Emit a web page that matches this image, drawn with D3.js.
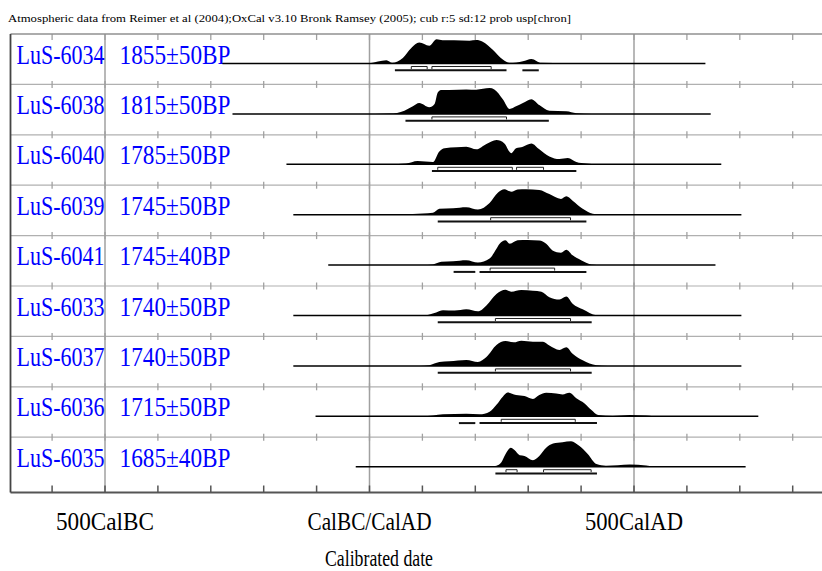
<!DOCTYPE html>
<html>
<head>
<meta charset="utf-8">
<script src="https://cdn.jsdelivr.net/npm/d3@7/dist/d3.min.js"></script>
<style>
  body { margin: 0; background: #fff; }
  text { font-family: "Liberation Serif", "Times New Roman", serif; }
</style>
</head>
<body>
<div id="chart"></div>
<script>
// samples, top to bottom
var labels = ["LuS-6034", "LuS-6038", "LuS-6040", "LuS-6039", "LuS-6041",
              "LuS-6033", "LuS-6037", "LuS-6036", "LuS-6035"];
var dates = ["1855\u00b150BP", "1815\u00b150BP", "1785\u00b150BP", "1745\u00b150BP", "1745\u00b140BP",
             "1740\u00b150BP", "1740\u00b150BP", "1715\u00b150BP", "1685\u00b140BP"];

// extent of the calibrated curve line for each sample (cal years, BC negative)
var spans = [[-278, 635], [-259, 645], [-157, 665], [-144, 703], [-78, 654],
             [-144, 703], [-144, 703], [-102, 735], [-26, 711]];

// probability distributions [year, relative probability]
var p6034 = [[-20,0],[0,0.3],[32,3.3],[43,0.7],[63,5.7],[79,15.7],[94,21.3],[113,18],[127,24.7],[138,23.7],
  [160,23.8],[189,23.3],[202,24],[214,22.3],[233,14],[252,4],[265,0.7],[290,2.3],[306,4.7],[325,0.7],[372,0.3],[400,0]];
var p6038 = [[10,0],[38,0.3],[66,3.3],[82,7.7],[94,11],[113,6.7],[123,10],[129,21.7],[135,24.3],[151,24.3],
  [183,25],[202,24.7],[227,26.3],[236,25],[252,15],[265,5],[277,7.7],[290,11],[306,15],[321,9],[340,3.3],[372,2.7],[391,0.7],[420,0]];
var p6040 = [[40,0],[69,0.7],[91,3.3],[120,2.3],[132,13],[142,16.3],[164,17.3],[183,18],[202,15.3],[221,20.7],
  [240,24.7],[255,21.3],[268,11.3],[277,16.3],[290,18],[306,21.3],[321,15.3],[340,8],[359,5.3],[375,6.3],[391,2.3],[410,0.7],[430,0]];
var p6039 = [[60,0],[82,0.7],[120,2],[132,6],[158,6.7],[183,7.7],[205,5.3],[227,12],[243,22.7],[255,26],
  [268,23.3],[280,25.7],[296,26],[321,25.3],[340,21],[362,16],[372,18.7],[384,14.3],[403,6],[422,1],[440,0]];
var p6041 = [[100,0],[120,0.7],[136,3.3],[158,4],[183,5],[205,2.7],[227,6.7],[240,16.7],[246,21.7],[257,25.3],
  [265,21.7],[280,25.3],[299,25.7],[321,25],[334,21.7],[346,15],[362,12.7],[372,15.7],[384,10],[400,5],[419,0.7],[440,0]];
var p6033 = [[90,0],[107,0.3],[126,3],[139,5.3],[161,5],[183,6.3],[205,4.3],[221,10.3],[240,22],[257,26.3],
  [268,24.3],[287,26],[309,25.3],[325,24.3],[340,18.7],[359,16.3],[372,19.3],[384,12],[403,6.3],[429,0.3],[450,0]];
var p6037 = [[95,0],[113,0.7],[132,4],[151,4.7],[183,6],[205,4],[221,9],[240,21.3],[257,25.3],[273,24],
  [287,25.7],[309,24.7],[328,24.7],[340,20.7],[359,16.3],[372,19],[384,12.3],[403,5.7],[429,0.7],[450,0]];
var p6036 = [[100,0],[120,0.7],[139,2],[183,2.7],[208,2],[227,4.7],[240,11.7],[252,20],[261,24.3],[277,21.7],
  [293,20.7],[309,17.7],[321,21.7],[334,24],[353,23.3],[365,22.3],[378,24],[391,18.3],[406,13.3],[419,6.7],
  [432,1.3],[460,0.3],[492,1.3],[523,0.7],[536,0]];
var p6035 = [[225,0],[240,1],[249,4.3],[257,12.7],[267,19.3],[274,17],[284,11.7],[293,11],[309,6.7],[321,11],
  [334,19.3],[347,23.7],[365,25],[381,26],[397,21],[413,12.7],[429,2.7],[447,1],[492,2.3],[523,1.3],[536,0]];
var probs = [p6034, p6038, p6040, p6039, p6041, p6033, p6037, p6036, p6035];

// 68.2% and 95.4% ranges
var ranges68 = [[[79,109],[118,230]], [[118,259]], [[129,270],[278,329]], [[229,380]], [[228,350]],
                [[238,380]], [[238,380]], [[249,389]], [[258,279],[329,419]]];
var ranges95 = [[[48,259],[289,320]], [[68,339]], [[118,391]], [[129,410]], [[159,200],[208,410]],
                [[129,420]], [[129,420]], [[169,200],[208,430]], [[238,430]]];

var axisLabels = [[-500, "500CalBC"], [0, "CalBC/CalAD"], [500, "500CalAD"]];
var tickYears = d3.range(-600, 900, 100);
var majorYears = [-500, 0, 500];
var title = "Atmospheric data from Reimer et al (2004);OxCal v3.10 Bronk Ramsey (2005); cub r:5 sd:12 prob usp[chron]";
var xTitle = "Calibrated date";

var width = 822, height = 571;
var frame = {left: 10.5, top: 34, right: 830, bottom: 492.5};
var rowH = 50.4;

var svg = d3.select("#chart").append("svg")
    .attr("width", width)
    .attr("height", height);

var x = d3.scaleLinear()
    .domain([-500, 500])
    .range([105, 634]);

var y = d3.scaleBand()
    .domain(labels)
    .range([frame.top, frame.top + rowH * labels.length]);

var h = d3.scaleLinear()
    .domain([0, 26])
    .range([0, 25.5]);

// title
svg.append("text")
    .attr("x", 8)
    .attr("y", 22)
    .attr("font-size", 11)
    .attr("textLength", 563)
    .attr("lengthAdjust", "spacingAndGlyphs")
    .text(title);

// row separators
svg.selectAll(".rowline")
    .data(labels.slice(1))
    .enter().append("line")
    .attr("x1", frame.left).attr("x2", frame.right)
    .attr("y1", function(d){ return y(d); })
    .attr("y2", function(d){ return y(d); })
    .attr("stroke", "#b0b0b0")
    .attr("stroke-width", 1.2);

// major grid lines
svg.selectAll(".major")
    .data(majorYears)
    .enter().append("line")
    .attr("x1", function(d){ return x(d); })
    .attr("x2", function(d){ return x(d); })
    .attr("y1", frame.top).attr("y2", frame.bottom)
    .attr("stroke", "#a0a0a0")
    .attr("stroke-width", 1.5);

// ticks on every row line
var tickRows = labels.map(function(d){ return y(d); });
tickRows.forEach(function(ty, i){
    svg.selectAll(null)
        .data(tickYears)
        .enter().append("line")
        .attr("x1", function(d){ return x(d); })
        .attr("x2", function(d){ return x(d); })
        .attr("y1", i == 0 ? ty : ty - 3.5)
        .attr("y2", i == 0 ? ty + 6 : ty + 3.5)
        .attr("stroke", "#a0a0a0")
        .attr("stroke-width", 1.3);
});
svg.selectAll(null)
    .data(tickYears)
    .enter().append("line")
    .attr("x1", function(d){ return x(d); })
    .attr("x2", function(d){ return x(d); })
    .attr("y1", frame.bottom - 7)
    .attr("y2", frame.bottom)
    .attr("stroke", "#555")
    .attr("stroke-width", 1.5);

// frame
svg.append("line")
    .attr("x1", frame.left).attr("x2", frame.right)
    .attr("y1", frame.top).attr("y2", frame.top)
    .attr("stroke", "#909090").attr("stroke-width", 1.5);
svg.append("line")
    .attr("x1", frame.left).attr("x2", frame.right)
    .attr("y1", frame.bottom).attr("y2", frame.bottom)
    .attr("stroke", "#555").attr("stroke-width", 1.8);
svg.append("line")
    .attr("x1", frame.left).attr("x2", frame.left)
    .attr("y1", frame.top).attr("y2", frame.bottom)
    .attr("stroke", "#444").attr("stroke-width", 1.8);

var area = d3.area()
    .x(function(d){ return x(d[0]); })
    .y0(0)
    .y1(function(d){ return -h(d[1]); })
    .curve(d3.curveMonotoneX);

labels.forEach(function(name, i){
    var top = y(name);
    var base = top + 29.5;
    var g = svg.append("g");

    g.append("text")
        .attr("x", 16.5).attr("y", base)
        .attr("font-size", 27)
        .attr("fill", "#0000ff")
        .attr("textLength", 88)
        .attr("lengthAdjust", "spacingAndGlyphs")
        .text(name);
    g.append("text")
        .attr("x", 119.5).attr("y", base)
        .attr("font-size", 27)
        .attr("fill", "#0000ff")
        .attr("textLength", 111)
        .attr("lengthAdjust", "spacingAndGlyphs")
        .text(dates[i]);

    g.append("line")
        .attr("x1", x(spans[i][0])).attr("x2", x(spans[i][1]))
        .attr("y1", base).attr("y2", base)
        .attr("stroke", "#000").attr("stroke-width", 1.5);

    g.append("path")
        .datum(probs[i])
        .attr("transform", "translate(0," + base + ")")
        .attr("d", area)
        .attr("fill", "#000");

    ranges68[i].forEach(function(r){
        g.append("path")
            .attr("d", "M" + x(r[0]) + "," + (base + 5.5) + "V" + (base + 3) +
                       "H" + x(r[1]) + "V" + (base + 5.5))
            .attr("fill", "none")
            .attr("stroke", "#222")
            .attr("stroke-width", 1);
    });
    ranges95[i].forEach(function(r){
        g.append("line")
            .attr("x1", x(r[0])).attr("x2", x(r[1]))
            .attr("y1", base + 6.8).attr("y2", base + 6.8)
            .attr("stroke", "#111")
            .attr("stroke-width", 2);
    });
});

// axis labels
svg.selectAll(".xlab")
    .data(axisLabels)
    .enter().append("text")
    .attr("x", function(d){ return x(d[0]); })
    .attr("y", 530)
    .attr("text-anchor", "middle")
    .attr("font-size", 25)
    .attr("textLength", function(d){ return d[1].length > 8 ? 124 : 98; })
    .attr("lengthAdjust", "spacingAndGlyphs")
    .text(function(d){ return d[1]; });

svg.append("text")
    .attr("x", 379)
    .attr("y", 566)
    .attr("text-anchor", "middle")
    .attr("font-size", 24)
    .attr("textLength", 108)
    .attr("lengthAdjust", "spacingAndGlyphs")
    .text(xTitle);
</script>
</body>
</html>
